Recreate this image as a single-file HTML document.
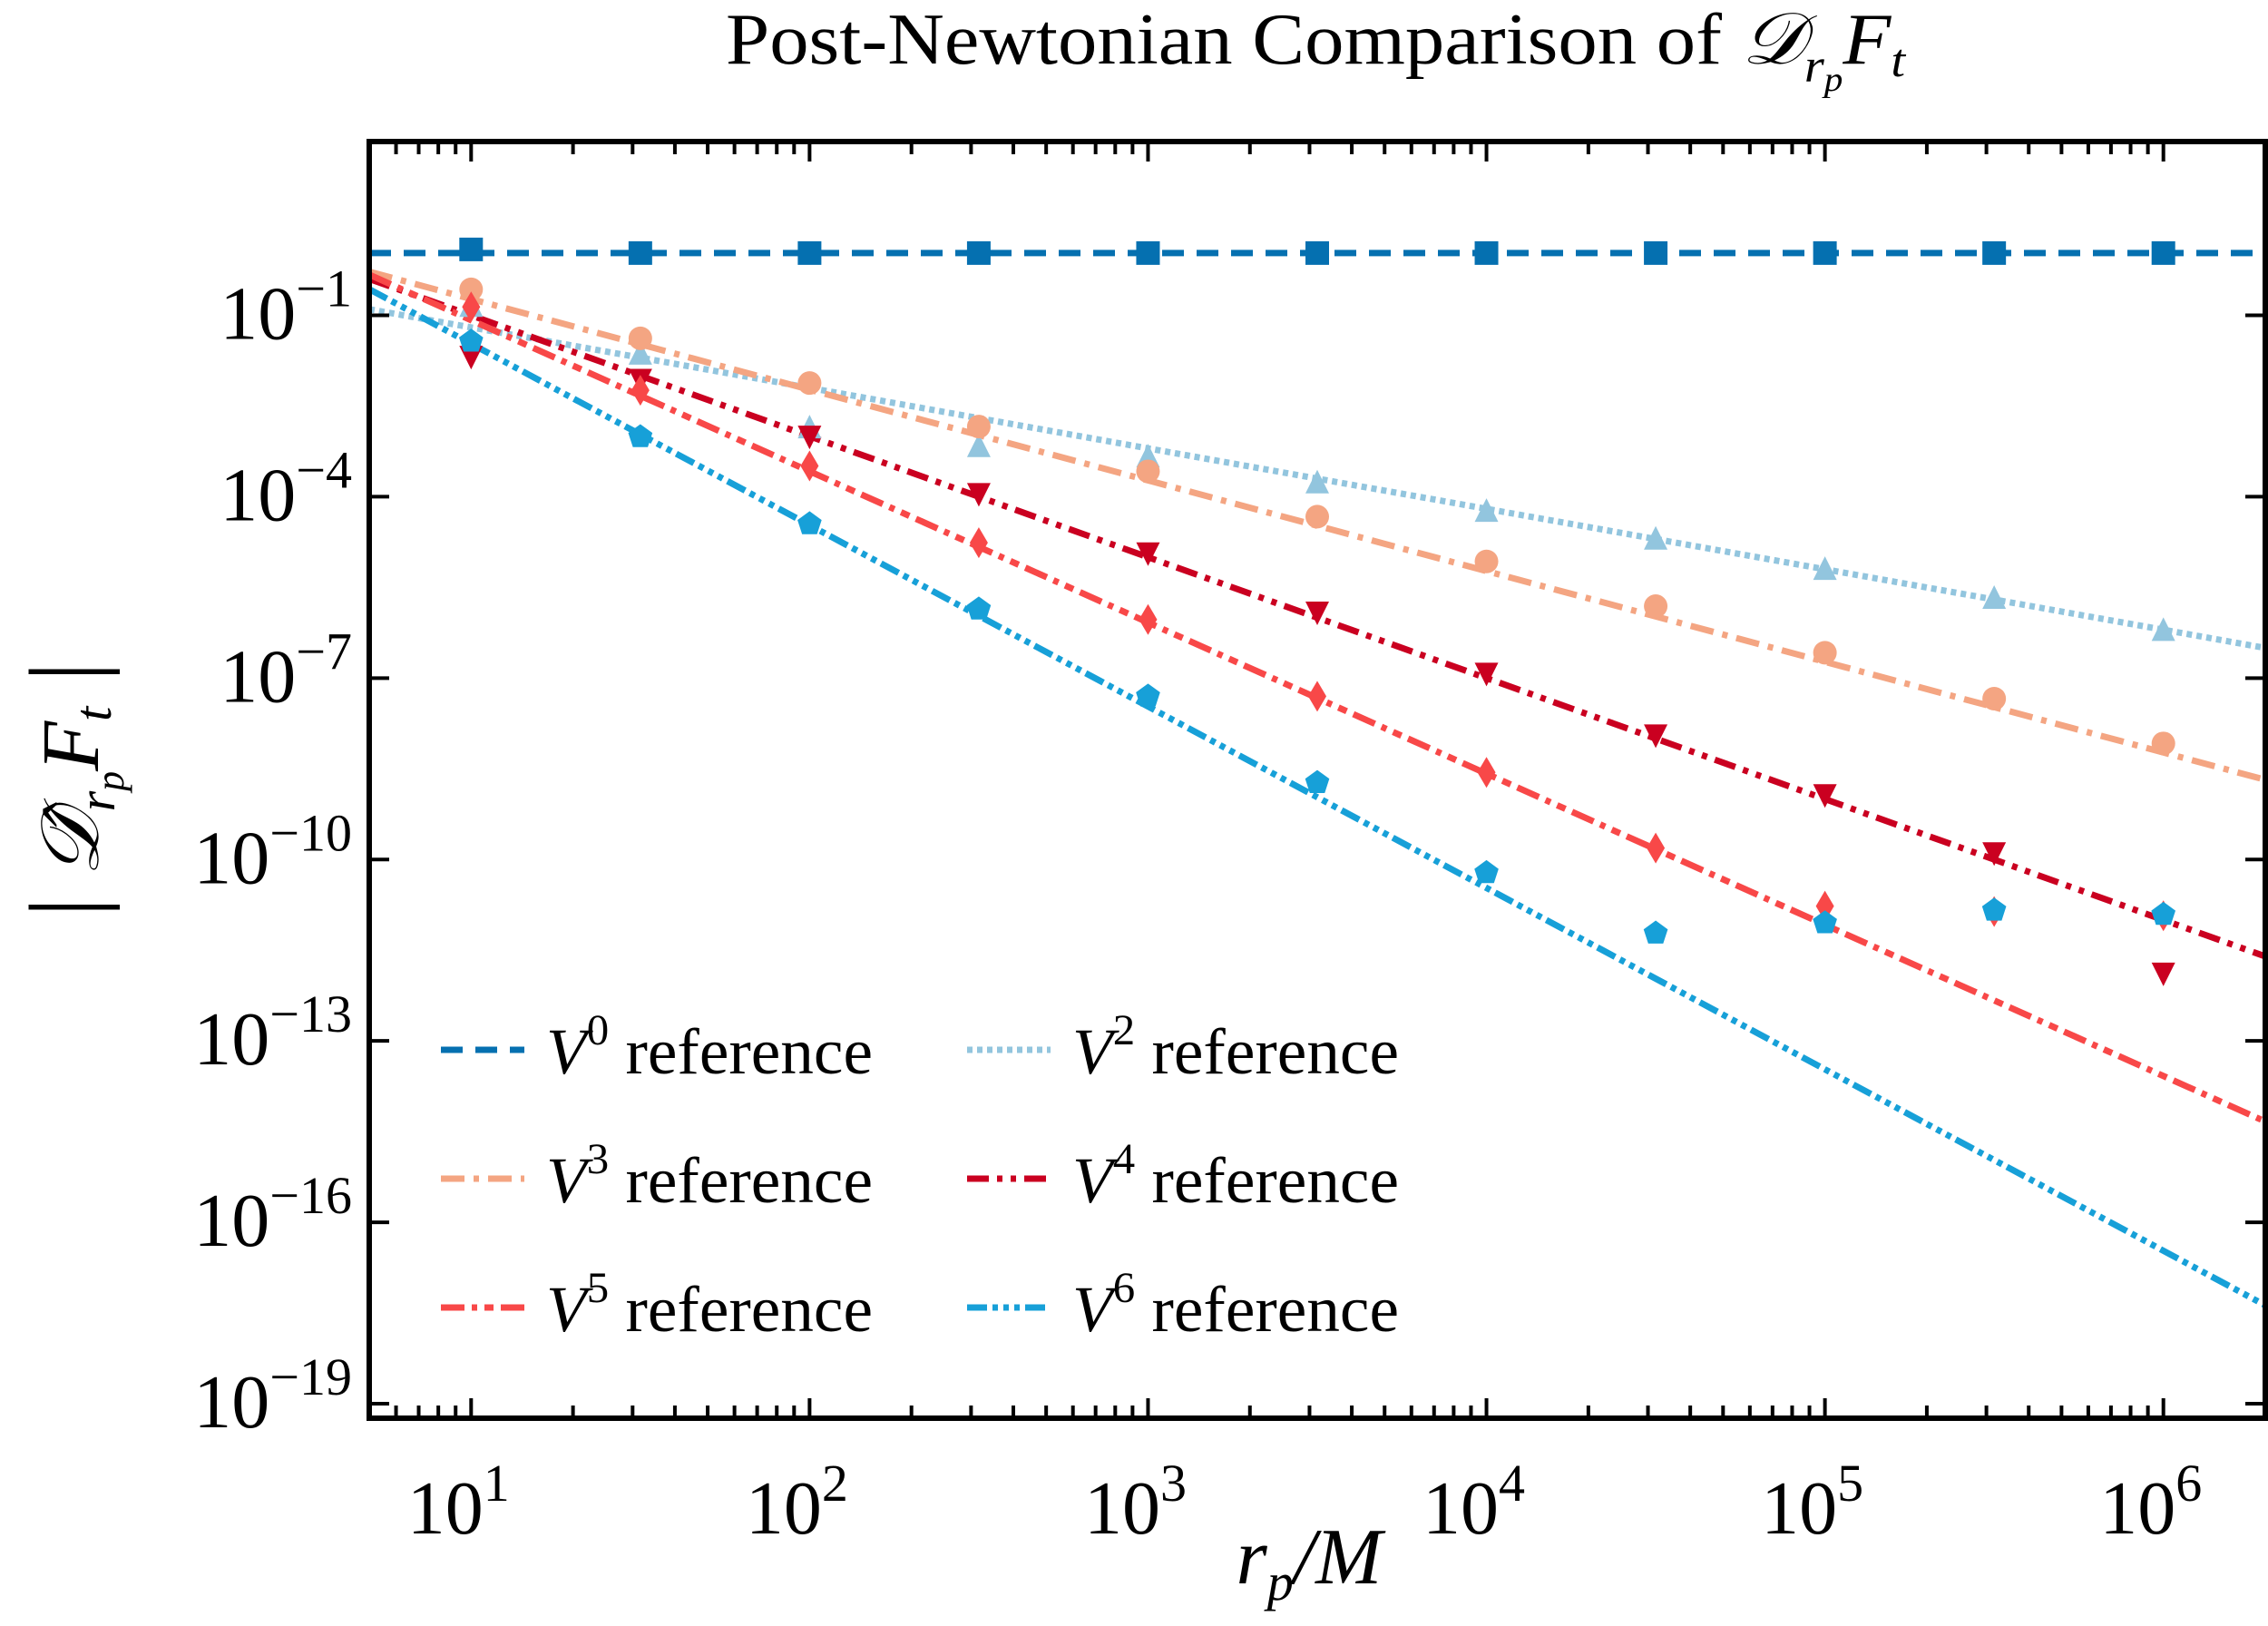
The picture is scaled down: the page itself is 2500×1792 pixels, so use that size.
<!DOCTYPE html>
<html><head><meta charset="utf-8"><style>
html,body{margin:0;padding:0;background:#fff;}
svg{display:block;font-family:"Liberation Serif",serif;}
</style></head><body>
<svg id="chart" width="2500" height="1792" viewBox="0 0 2500 1792" xmlns="http://www.w3.org/2000/svg">
<text x="1450" y="70" font-size="80" text-anchor="middle" textLength="1300" lengthAdjust="spacingAndGlyphs">Post-Newtonian Comparison of <tspan font-style="italic">𝒟</tspan><tspan font-size="52" dy="20" font-style="italic">r</tspan><tspan font-size="38" dy="10" font-style="italic">p</tspan><tspan dy="-30" font-style="italic">F</tspan><tspan font-size="52" dy="14" font-style="italic">t</tspan></text>
<g id="plot"></g>
<text x="1443" y="1745" font-size="88" text-anchor="middle" font-style="italic">r<tspan font-size="58" dy="18">p</tspan><tspan dy="-18">/M</tspan></text>
<g transform="translate(108,870) rotate(-90)">
<text x="0" y="0" font-size="90" text-anchor="middle" font-style="italic"><tspan font-size="110" font-style="normal">|</tspan> 𝒟̂<tspan font-size="58" dy="18">r</tspan><tspan font-size="44" dy="10">p</tspan><tspan dy="-28">F</tspan><tspan font-size="58" dy="14">t</tspan><tspan dy="-14" font-size="110" font-style="normal"> |</tspan></text>
</g>
</svg>
<script>
const xTicks = [1,2,3,4,5,6];
const yTicks = [-1,-4,-7,-10,-13,-16,-19];
const xPoints = [1,1.5,2,2.5,3,3.5,4,4.5,5,5.5,6];
const v0Vals = [0.09,0.03,0.03,0.03,0.03,0.03,0.03,0.03,0.03,0.03,0.03];
const v2Vals = [-0.86,-1.65,-2.87,-3.18,-3.35,-3.78,-4.25,-4.71,-5.21,-5.69,-6.22];
const v3Vals = [-0.57,-1.38,-2.12,-2.84,-3.58,-4.33,-5.07,-5.81,-6.58,-7.34,-8.08];
const v4Vals = [-1.67,-2.05,-2.99,-3.94,-4.92,-5.90,-6.91,-7.93,-8.92,-9.88,-11.87];
const v5Vals = [-0.86,-2.24,-3.49,-4.76,-6.03,-7.30,-8.56,-9.81,-10.77,-10.86,-10.93];
const v6Vals = [-1.43,-3.01,-4.45,-5.86,-7.30,-8.73,-10.22,-11.22,-11.05,-10.84,-10.91];
const refIntercepts = [0.03,-0.2,0.77,1.0,1.42,1.53];
const refSlopes = [0,-1,-1.5,-2,-2.5,-3];
const seriesNames = ["V0","V2","V3","V4","V5","V6"];

const NS="http://www.w3.org/2000/svg";
const L=407,R=2497,T=156,B=1563;
const xmin=Math.log10(5),xmax=Math.log10(2e6);
const ymin=-19.24,ymax=1.874;
const X=v=>L+(v-xmin)/(xmax-xmin)*(R-L);
const Y=v=>T+(ymax-v)/(ymax-ymin)*(B-T);
const g=document.getElementById('plot');
function mk(tag,attrs,parent){const e=document.createElementNS(NS,tag);for(const k in attrs)e.setAttribute(k,attrs[k]);(parent||g).appendChild(e);return e;}
const colors=["#0570b0","#92c5de","#f4a582","#ca0020","#f84848","#17a0d8"];
const dashes=["24,14","6,5","26,10,6,10","24,9,6,9,6,9","26,8,6,8,10,8","22,6,6,6,6,6,6,6"];
const series=[v0Vals,v2Vals,v3Vals,v4Vals,v5Vals,v6Vals];
const clip=mk('clipPath',{id:'pc'});mk('rect',{x:L,y:T,width:R-L,height:B-T},clip);
const lines=mk('g',{'clip-path':'url(#pc)'});


for(let i=0;i<6;i++){
  const y1=refIntercepts[i]+refSlopes[i]*xmin,y2=refIntercepts[i]+refSlopes[i]*xmax;
  const ln=mk('line',{x1:X(xmin),y1:Y(y1),x2:X(xmax),y2:Y(y2),stroke:colors[i],'stroke-width':7,'stroke-dasharray':dashes[i]},lines);
  
  
}
function marker(i,cx,cy){
  const s=13;let e;
  if(i===0)e=mk('rect',{x:cx-s,y:cy-s,width:2*s,height:2*s},lines);
  else if(i===1)e=mk('polygon',{points:`${cx},${cy-s-2} ${cx-s},${cy+s-2} ${cx+s},${cy+s-2}`},lines);
  else if(i===2)e=mk('circle',{cx:cx,cy:cy,r:s},lines);
  else if(i===3)e=mk('polygon',{points:`${cx},${cy+s+2} ${cx-s},${cy-s+2} ${cx+s},${cy-s+2}`},lines);
  else if(i===4)e=mk('polygon',{points:`${cx},${cy-s-4} ${cx+s-3},${cy} ${cx},${cy+s+4} ${cx-s+3},${cy}`},lines);
  else{let p=[];for(let k=0;k<5;k++){const a=-Math.PI/2+k*2*Math.PI/5;p.push((cx+14*Math.cos(a))+','+(cy+14*Math.sin(a)));}e=mk('polygon',{points:p.join(' ')},lines);}
  e.setAttribute('fill',colors[i]);
  return e;
}
for(let i=0;i<6;i++){for(let j=0;j<xPoints.length;j++){
  const m=marker(i,X(xPoints[j]),Y(series[i][j]));
  
  
}}
for(let d=0;d<=6;d++){for(let k=1;k<=9;k++){
  const v=d+Math.log10(k);if(v<xmin||v>xmax)continue;
  const len=k===1?22:14,x=X(v);
  const t1=mk('line',{x1:x,y1:B,x2:x,y2:B-len,stroke:'#000','stroke-width':4});
  
  
  const t2=mk('line',{x1:x,y1:T,x2:x,y2:T+len,stroke:'#000','stroke-width':4});
  
  
}}
xTicks.forEach(v=>{
  const t=mk('text',{x:X(v)-14,y:1690,'font-size':84,'text-anchor':'middle'});
  
  
  t.innerHTML='10<tspan font-size="58" dy="-36">'+v+'</tspan>';
});
yTicks.forEach(v=>{
  const y=Y(v);
  const a=mk('line',{x1:L,y1:y,x2:L+22,y2:y,stroke:'#000','stroke-width':4});
  
  
  const b=mk('line',{x1:R,y1:y,x2:R-22,y2:y,stroke:'#000','stroke-width':4});
  
  
  const t=mk('text',{x:388,y:y+26,'font-size':84,'text-anchor':'end'});
  
  
  t.innerHTML='10<tspan font-size="58" dy="-36">−'+(-v)+'</tspan>';
});
const fr=mk('rect',{x:L,y:T,width:R-L,height:B-T,fill:'none',stroke:'#000','stroke-width':6});


const legPos=[[486,1157],[1066,1157],[486,1299],[1066,1299],[486,1441],[1066,1441]];
const supers=["0","2","3","4","5","6"];
for(let i=0;i<6;i++){
  const [lx,ly]=legPos[i];
  const lg=mk('g',{});
  
  
  mk('line',{x1:lx,y1:ly,x2:lx+92,y2:ly,stroke:colors[i],'stroke-width':7,'stroke-dasharray':dashes[i]},lg);
  const t=mk('text',{x:lx+116,y:ly+26,'font-size':72,textLength:360,lengthAdjust:'spacingAndGlyphs'},lg);
  t.innerHTML='<tspan font-style="italic">V</tspan><tspan font-size="48" dy="-32">'+supers[i]+'</tspan><tspan dy="32"> reference</tspan>';
}
</script>
</body></html>
